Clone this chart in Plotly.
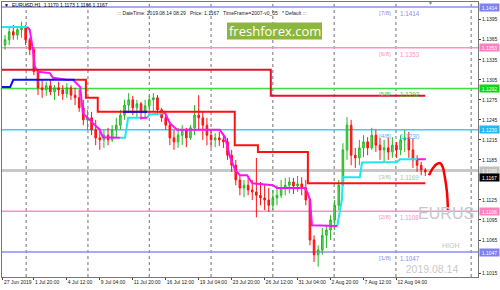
import plotly.graph_objects as go

# ---------------- data ----------------
symbol_header = "EURUSD,H1  1.1170 1.1173 1.1166 1.1167"
info_header = "::: DateTime: 2019.08.14 08:29   Price: 1.1167   TimeFrame=2007-v0_05   * Default :::"

# H1 bars grouped by 8 (bar index of each group centre)
bucket_bar = list(range(4, 824, 8))
opens = [1.1357, 1.1365, 1.1377, 1.1372, 1.1380, 1.1383, 1.1365, 1.1350, 1.1317, 1.1293,
         1.1290, 1.1296, 1.1287, 1.1293, 1.1290, 1.1284, 1.1293, 1.1282, 1.1278, 1.1263,
         1.1245, 1.1248, 1.1230, 1.1218, 1.1215, 1.1222, 1.1215, 1.1230, 1.1237, 1.1252,
         1.1267, 1.1275, 1.1263, 1.1269, 1.1257, 1.1266, 1.1275, 1.1278, 1.1260, 1.1248,
         1.1237, 1.1218, 1.1212, 1.1222, 1.1230, 1.1218, 1.1233, 1.1252, 1.1248, 1.1237,
         1.1222, 1.1215, 1.1218, 1.1215, 1.1212, 1.1192, 1.1177, 1.1155, 1.1143, 1.1147,
         1.1140, 1.1137, 1.1132, 1.1128, 1.1125, 1.1117, 1.1128, 1.1132, 1.1143, 1.1147,
         1.1152, 1.1146, 1.1149, 1.1143, 1.1125, 1.1065, 1.1043, 1.1050, 1.1072, 1.1080,
         1.1095, 1.1117, 1.1147, 1.1200, 1.1237, 1.1192, 1.1188, 1.1203, 1.1212, 1.1203,
         1.1222, 1.1207, 1.1200, 1.1203, 1.1197, 1.1207, 1.1200, 1.1215, 1.1218, 1.1200,
         1.1185, 1.1177, 1.1170]
highs = [1.1372, 1.1383, 1.1387, 1.1384, 1.1392, 1.1387, 1.1368, 1.1354, 1.1320, 1.1305,
         1.1302, 1.1305, 1.1297, 1.1302, 1.1297, 1.1300, 1.1297, 1.1293, 1.1290, 1.1275,
         1.1260, 1.1257, 1.1245, 1.1233, 1.1230, 1.1233, 1.1237, 1.1248, 1.1260, 1.1275,
         1.1285, 1.1281, 1.1275, 1.1272, 1.1275, 1.1281, 1.1285, 1.1282, 1.1263, 1.1252,
         1.1242, 1.1230, 1.1233, 1.1237, 1.1233, 1.1237, 1.1267, 1.1282, 1.1257, 1.1248,
         1.1230, 1.1225, 1.1227, 1.1222, 1.1218, 1.1200, 1.1185, 1.1162, 1.1155, 1.1158,
         1.1155, 1.1188, 1.1152, 1.1147, 1.1143, 1.1140, 1.1147, 1.1155, 1.1158, 1.1159,
         1.1158, 1.1161, 1.1159, 1.1155, 1.1128, 1.1072, 1.1057, 1.1083, 1.1087, 1.1102,
         1.1125, 1.1155, 1.1210, 1.1249, 1.1245, 1.1203, 1.1215, 1.1222, 1.1219, 1.1233,
         1.1230, 1.1218, 1.1215, 1.1218, 1.1219, 1.1212, 1.1222, 1.1230, 1.1227, 1.1218,
         1.1192, 1.1182, 1.1173]
lows = [1.1350, 1.1357, 1.1365, 1.1365, 1.1368, 1.1357, 1.1342, 1.1312, 1.1282, 1.1278,
        1.1281, 1.1282, 1.1275, 1.1281, 1.1275, 1.1278, 1.1275, 1.1267, 1.1257, 1.1237,
        1.1230, 1.1222, 1.1207, 1.1200, 1.1203, 1.1207, 1.1212, 1.1218, 1.1230, 1.1245,
        1.1257, 1.1252, 1.1248, 1.1245, 1.1248, 1.1252, 1.1257, 1.1252, 1.1242, 1.1230,
        1.1207, 1.1200, 1.1203, 1.1207, 1.1204, 1.1215, 1.1222, 1.1230, 1.1215, 1.1207,
        1.1203, 1.1204, 1.1206, 1.1203, 1.1185, 1.1167, 1.1147, 1.1132, 1.1129, 1.1132,
        1.1125, 1.1099, 1.1117, 1.1110, 1.1107, 1.1110, 1.1117, 1.1128, 1.1132, 1.1135,
        1.1134, 1.1137, 1.1132, 1.1117, 1.1057, 1.1032, 1.1025, 1.1043, 1.1053, 1.1065,
        1.1080, 1.1110, 1.1147, 1.1185, 1.1177, 1.1173, 1.1177, 1.1189, 1.1192, 1.1200,
        1.1197, 1.1185, 1.1182, 1.1185, 1.1188, 1.1188, 1.1192, 1.1197, 1.1188, 1.1173,
        1.1167, 1.1162, 1.1161]
closes = [1.1365, 1.1377, 1.1372, 1.1380, 1.1383, 1.1365, 1.1350, 1.1317, 1.1293, 1.1290,
          1.1296, 1.1287, 1.1293, 1.1290, 1.1284, 1.1293, 1.1282, 1.1278, 1.1263, 1.1245,
          1.1248, 1.1230, 1.1218, 1.1215, 1.1222, 1.1215, 1.1230, 1.1237, 1.1252, 1.1267,
          1.1275, 1.1263, 1.1269, 1.1257, 1.1266, 1.1275, 1.1278, 1.1260, 1.1248, 1.1237,
          1.1218, 1.1212, 1.1222, 1.1230, 1.1218, 1.1233, 1.1252, 1.1248, 1.1237, 1.1222,
          1.1215, 1.1218, 1.1215, 1.1212, 1.1192, 1.1177, 1.1155, 1.1143, 1.1147, 1.1140,
          1.1137, 1.1132, 1.1128, 1.1125, 1.1117, 1.1128, 1.1132, 1.1143, 1.1147, 1.1152,
          1.1146, 1.1149, 1.1143, 1.1125, 1.1065, 1.1043, 1.1050, 1.1072, 1.1080, 1.1095,
          1.1117, 1.1147, 1.1200, 1.1237, 1.1192, 1.1188, 1.1203, 1.1212, 1.1203, 1.1222,
          1.1207, 1.1200, 1.1203, 1.1197, 1.1207, 1.1200, 1.1215, 1.1218, 1.1200, 1.1185,
          1.1177, 1.1170, 1.1167]

# time axis labels (H1 bar index)
date_tick_bars = [0, 60, 124, 188, 252, 316, 380, 444, 508, 572, 636, 700, 764]
date_tick_text = ["27 Jun 2019", "1 Jul 20:00", "4 Jul 12:00", "9 Jul 04:00", "11 Jul 20:00",
                  "16 Jul 12:00", "19 Jul 04:00", "23 Jul 20:00", "26 Jul 12:00",
                  "31 Jul 04:00", "2 Aug 20:00", "7 Aug 12:00", "12 Aug 04:00"]
week_grid_bars = [45, 165, 284, 404, 524, 643, 763, 909]

price_ticks = [1.1395, 1.1365, 1.1335, 1.1305, 1.1275, 1.1245, 1.1215, 1.1185,
               1.1125, 1.1095, 1.1065, 1.1015]

# Murrey math levels
murrey_names = ["[7/8]", "[6/8]", "[5/8]", "[4/8]", "[3/8]", "[2/8]", "[1/8]"]
murrey_levels = [1.1414, 1.1353, 1.1292, 1.1230, 1.1169, 1.1108, 1.1047]
murrey_colors = ["#8c8cf2", "#ff8fc8", "#3ee03e", "#45c8f5", "#c8c8c8", "#ff8fc8", "#8c8cf2"]
murrey_text_colors = ["#8c8cf2", "#ff8fc8", "#38c838", "#4cb8e8", "#9ccc9c", "#ff8fc8", "#8c8cf2"]
murrey_box_colors = ["#8080f0", "#ff80c0", "#10d810", "#20b8f0", "#c0c0c0", "#ff80c0", "#8080f0"]
last_price = 1.1167

# indicator lines
upper_red_bar = [-2, 520, 820]
upper_red = [1.1320, 1.1281, 1.1281]

mid_blue_bar = [-2, 14, 20, 140]
mid_blue = [1.1294, 1.1294, 1.1305, 1.1305]
mid_red_bar = [140, 161, 184, 450, 495, 592, 820]
mid_red = [1.1305, 1.1278, 1.1257, 1.1207, 1.1197, 1.1150, 1.1150]
mid_blue2_bar = [233, 280]
mid_blue2 = [1.1257, 1.1257]

trend_up_bar = [-2, 47, None, 227, 237, 243, 266, None, 280, 284, 311, None,
                649, 658, 660, 693, 697, 765, 771, 804]
trend_up = [1.1384, 1.1384, None, 1.1218, 1.1218, 1.1248, 1.1248, None, 1.1248, 1.1253, 1.1255, None,
            1.1086, 1.1125, 1.1159, 1.1159, 1.1181, 1.1182, 1.1186, 1.1186]
trend_dn_bar = [47, 52, 58, 62, 68, 91, 97, 124, 136, 150, 155, 169, 188, 194, 221, 227, None,
                266, 280, None,
                311, 315, 324, 338, 421, 431, 441, 451, 460, 474, 484, 524, 532, 586, 592, 596, 600, 649, None,
                804, 821]
trend_dn = [1.1384, 1.1380, 1.1350, 1.1324, 1.1317, 1.1315, 1.1308, 1.1305, 1.1305, 1.1294, 1.1255,
            1.1245, 1.1230, 1.1219, 1.1218, 1.1218, None,
            1.1248, 1.1248, None,
            1.1255, 1.1255, 1.1240, 1.1230, 1.1230, 1.1219, 1.1189, 1.1170, 1.1162, 1.1162, 1.1150,
            1.1147, 1.1143, 1.1143, 1.1135, 1.1125, 1.1087, 1.1086, None,
            1.1186, 1.1186]

forecast_bar = [827, 835, 843, 849, 854, 858, 862, 864]
forecast = [1.1162, 1.1173, 1.1179, 1.1180, 1.1174, 1.1159, 1.1137, 1.1110]

# ---------------- layout helpers ----------------
W, H = 500, 290
ML, MR, MT, MB = 2, 22, 2, 13
PW, PH = W - ML - MR, H - MT - MB
X_RANGE = [-1.9, 922.3]
Y_RANGE = [1.10096, 1.14215]
FONT = "Liberation Sans, Arial, sans-serif"


def fx(p):
    return (p - ML) / PW


def fy(p):
    return (H - MB - p) / PH


fig = go.Figure()

fig.add_trace(go.Candlestick(
    x=bucket_bar, open=opens, high=highs, low=lows, close=closes,
    increasing=dict(line=dict(color="#22b822", width=1), fillcolor="#6ad86a"),
    decreasing=dict(line=dict(color="#ff1010", width=1), fillcolor="#ff2020"),
    whiskerwidth=0, hoverinfo="skip", showlegend=False))

fig.add_trace(go.Scatter(x=trend_up_bar, y=trend_up, mode="lines",
                         line=dict(color="#1fe6f2", width=2), showlegend=False, hoverinfo="skip"))
fig.add_trace(go.Scatter(x=trend_dn_bar, y=trend_dn, mode="lines",
                         line=dict(color="#ff10ff", width=2), showlegend=False, hoverinfo="skip"))
fig.add_trace(go.Scatter(x=upper_red_bar, y=upper_red, mode="lines", line_shape="hv",
                         line=dict(color="#e8102e", width=2), showlegend=False, hoverinfo="skip"))
fig.add_trace(go.Scatter(x=mid_red_bar, y=mid_red, mode="lines", line_shape="hv",
                         line=dict(color="#ff1010", width=2), showlegend=False, hoverinfo="skip"))
fig.add_trace(go.Scatter(x=mid_blue_bar, y=mid_blue, mode="lines",
                         line=dict(color="#1010e8", width=2), showlegend=False, hoverinfo="skip"))
fig.add_trace(go.Scatter(x=mid_blue2_bar, y=mid_blue2, mode="lines",
                         line=dict(color="#1010e8", width=2), showlegend=False, hoverinfo="skip"))
fig.add_trace(go.Scatter(x=forecast_bar, y=forecast, mode="lines", line_shape="spline",
                         line=dict(color="#ff0000", width=2.5), showlegend=False, hoverinfo="skip"))

# big watermark texts (kept inside the plot area)
fig.add_trace(go.Scatter(x=[806], y=[1.1102], mode="text", text=["EURUS"],
                         textposition="middle right", cliponaxis=True,
                         textfont=dict(family=FONT, size=16, color="#c8c8c8"),
                         showlegend=False, hoverinfo="skip"))
fig.add_trace(go.Scatter(x=[782], y=[1.1020], mode="text", text=["2019.08.14"],
                         textposition="middle right", cliponaxis=True,
                         textfont=dict(family=FONT, size=10.5, color="#c8c8c8"),
                         showlegend=False, hoverinfo="skip"))

shapes = []
for b in week_grid_bars:
    shapes.append(dict(type="line", xref="x", yref="paper", x0=b, x1=b, y0=0, y1=1,
                       line=dict(color="#707070", width=1, dash="dot"), layer="below"))
for lvl, col, nm in zip(murrey_levels, murrey_colors, murrey_names):
    shapes.append(dict(type="line", xref="paper", yref="y", x0=0, x1=1, y0=lvl, y1=lvl,
                       line=dict(color=col, width=3 if nm == "[3/8]" else 1.5), layer="below"))
# freshforex badge
shapes.append(dict(type="rect", xref="paper", yref="paper", x0=fx(227), x1=fx(322),
                   y0=fy(39.5), y1=fy(22.5), fillcolor="#8db63e", line=dict(width=0), layer="above"))

annotations = []
for lvl, nm, tc, bc in zip(murrey_levels, murrey_names, murrey_text_colors, murrey_box_colors):
    annotations.append(dict(xref="paper", yref="y", x=fx(377), y=lvl, text=nm, showarrow=False,
                            xanchor="left", yanchor="top", yshift=-1,
                            font=dict(family=FONT, size=6, color=tc)))
    annotations.append(dict(xref="paper", yref="y", x=fx(398), y=lvl, text=f"{lvl:.4f}", showarrow=False,
                            xanchor="left", yanchor="top", yshift=-1,
                            font=dict(family=FONT, size=6.3, color=tc)))
    annotations.append(dict(xref="paper", yref="y", x=1, y=lvl, text=f"{lvl:.4f}", showarrow=False,
                            xanchor="left", yanchor="middle", xshift=1, width=18, height=6,
                            bgcolor=bc, borderpad=0.5, align="center",
                            font=dict(family=FONT, size=5, color="#ffffff")))
annotations.append(dict(xref="paper", yref="y", x=1, y=last_price, text=f"{last_price:.4f}", showarrow=False,
                        xanchor="left", yanchor="top", xshift=1, yshift=-1, width=18, height=6,
                        bgcolor="#000000", borderpad=0.5, align="center",
                        font=dict(family=FONT, size=5, color="#ffffff")))
annotations.append(dict(xref="paper", yref="y", x=fx(440), y=1.1047, text="HIGH", showarrow=False,
                        xanchor="left", yanchor="bottom", yshift=1,
                        font=dict(family=FONT, size=7, color="#c4c4c4")))
annotations.append(dict(xref="paper", yref="paper", x=fx(274.5), y=fy(31), text="freshforex.com",
                        showarrow=False, xanchor="center", yanchor="middle",
                        font=dict(family="Open Sans, sans-serif", size=13, color="#ffffff")))
annotations.append(dict(xref="paper", yref="paper", x=fx(2), y=fy(5), text="\u25bc", showarrow=False,
                        xanchor="left", yanchor="middle", font=dict(family=FONT, size=5, color="#000")))
annotations.append(dict(xref="paper", yref="paper", x=fx(10), y=fy(5), text=symbol_header, showarrow=False,
                        xanchor="left", yanchor="middle", font=dict(family=FONT, size=5, color="#000")))
annotations.append(dict(xref="paper", yref="paper", x=fx(115), y=fy(13), text=info_header, showarrow=False,
                        xanchor="left", yanchor="middle", font=dict(family=FONT, size=5, color="#202020")))
annotations.append(dict(xref="paper", yref="paper", x=fx(430), y=fy(3), text="\u25bc", showarrow=False,
                        xanchor="center", yanchor="middle", font=dict(family=FONT, size=5, color="#808080")))

fig.update_layout(
    width=W, height=H, margin=dict(l=ML, r=MR, t=MT, b=MB),
    paper_bgcolor="#ffffff", plot_bgcolor="#ffffff",
    showlegend=False, shapes=shapes, annotations=annotations, boxgap=0.45,
    xaxis=dict(range=X_RANGE, rangeslider=dict(visible=False), showgrid=False, zeroline=False,
               tickvals=date_tick_bars, ticktext=date_tick_text, ticks="outside", ticklen=2,
               tickangle=0, tickcolor="#444", ticklabelposition="outside right",
               tickfont=dict(family=FONT, size=5, color="#202020"),
               showline=True, linecolor="#777", linewidth=1, mirror=True, fixedrange=True),
    yaxis=dict(range=Y_RANGE, side="right", showgrid=False, zeroline=False,
               tickvals=price_ticks, ticktext=[f"{v:.4f}" for v in price_ticks],
               ticks="outside", ticklen=2, tickcolor="#444",
               tickfont=dict(family=FONT, size=5, color="#202020"),
               showline=True, linecolor="#777", linewidth=1, mirror=True, fixedrange=True),
)

fig.write_html("out.html")
